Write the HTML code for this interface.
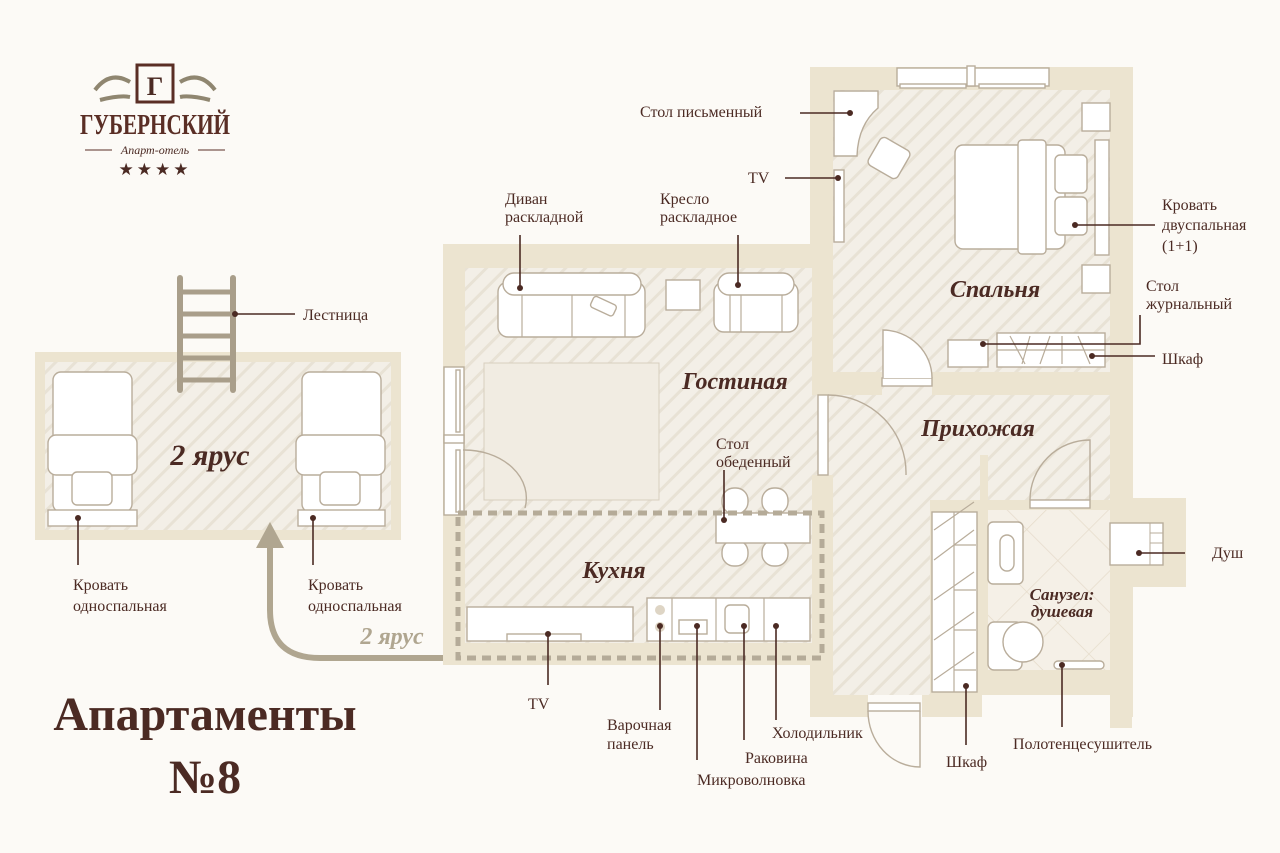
<!DOCTYPE html>
<html><head><meta charset="utf-8"><style>
html,body{margin:0;padding:0;background:#fcfaf6;}
svg{display:block}
text{font-family:"Liberation Serif",serif;fill:#4b2a23}
.l{font-size:16px}
.r{font-size:24px;font-weight:bold;font-style:italic}
.f{fill:#fff;stroke:#b9ad9b;stroke-width:1.4}
.ld{stroke:#4b2a23;stroke-width:1.6;fill:none}
</style></head><body>
<svg width="1280" height="853" viewBox="0 0 1280 853" xmlns="http://www.w3.org/2000/svg">
<defs>
<pattern id="h" width="14" height="14" patternUnits="userSpaceOnUse" patternTransform="rotate(45)">
<rect width="14" height="14" fill="#f3efe7"/><rect width="3" height="14" fill="#e8e2d5"/>
</pattern>
<pattern id="tile" width="44" height="44" patternUnits="userSpaceOnUse" patternTransform="rotate(45)">
<rect width="44" height="44" fill="#f5f0e7"/><path d="M0 0H44M0 0V44" stroke="#e6dccb" stroke-width="1.5"/>
</pattern>
</defs>
<rect width="1280" height="853" fill="#fcfaf6"/>

<!-- Logo -->
<g>
<rect x="137" y="65" width="36" height="37" fill="none" stroke="#5a2e25" stroke-width="3"/>
<text x="155" y="95" font-size="26" font-weight="bold" text-anchor="middle">Г</text>
<path d="M95 90q15-20 35-8M215 90q-15-20-35-8M100 100q20-5 30-3M210 100q-20-5-30-3" stroke="#8f8670" stroke-width="4" fill="none"/>
<text x="155" y="134" font-size="28" font-weight="bold" text-anchor="middle" textLength="150" lengthAdjust="spacingAndGlyphs" style="fill:#5a2e25">ГУБЕРНСКИЙ</text>
<line x1="85" y1="150" x2="112" y2="150" stroke="#5a2e25"/><line x1="198" y1="150" x2="225" y2="150" stroke="#5a2e25"/>
<text x="155" y="154" font-size="12" font-style="italic" text-anchor="middle">Апарт-отель</text>
<text x="155" y="175" font-size="17" text-anchor="middle" style="letter-spacing:3px">★★★★</text>
</g>

<!-- upper level -->
<rect x="35" y="352" width="366" height="188" fill="#ece4d0"/>
<rect x="45" y="362" width="346" height="168" fill="url(#h)"/>
<g stroke="#a99e8a" stroke-width="6" stroke-linecap="round">
<line x1="180" y1="278" x2="180" y2="390"/><line x1="233" y1="278" x2="233" y2="390"/>
</g>
<g stroke="#a99e8a" stroke-width="5">
<line x1="180" y1="292" x2="233" y2="292"/><line x1="180" y1="314" x2="233" y2="314"/><line x1="180" y1="336" x2="233" y2="336"/><line x1="180" y1="358" x2="233" y2="358"/><line x1="180" y1="380" x2="233" y2="380"/>
</g>
<g>
<rect class="f" x="53" y="372" width="79" height="140" rx="8"/><rect class="f" x="48" y="435" width="89" height="40" rx="8"/><rect class="f" x="72" y="472" width="40" height="33" rx="5"/><rect class="f" x="48" y="510" width="89" height="16"/>
<rect class="f" x="302" y="372" width="79" height="140" rx="8"/><rect class="f" x="296" y="435" width="89" height="40" rx="8"/><rect class="f" x="320" y="472" width="40" height="33" rx="5"/><rect class="f" x="298" y="510" width="87" height="16"/>
</g>
<text class="r" x="210" y="465" text-anchor="middle" style="font-size:30px">2 ярус</text>
<path d="M270 540V610Q270 658 320 658H460" stroke="#b0a690" stroke-width="6" fill="none"/>
<polygon points="270,522 256,548 284,548" fill="#b0a690"/>
<text x="392" y="644" text-anchor="middle" style="font-size:24px;font-style:italic;font-weight:bold;fill:#b0a690">2 ярус</text>

<!-- walls -->
<g fill="#ece4d0">
<rect x="810" y="67" width="323" height="330"/>
<rect x="443" y="244" width="390" height="421"/>
<rect x="810" y="380" width="323" height="337"/>
<rect x="1110" y="498" width="76" height="89"/>
<rect x="1110" y="690" width="22" height="38"/>
</g>
<rect x="443" y="665" width="367" height="60" fill="#fcfaf6"/>
<rect x="982" y="695" width="128" height="40" fill="#fcfaf6"/>
<!-- floors -->
<rect x="833" y="90" width="277" height="282" fill="url(#h)"/>
<rect x="465" y="268" width="347" height="375" fill="url(#h)"/>
<rect x="833" y="395" width="277" height="105" fill="url(#h)"/>
<rect x="833" y="500" width="97" height="195" fill="url(#h)"/>
<rect x="812" y="395" width="21" height="80" fill="url(#h)"/>
<rect x="988" y="510" width="122" height="160" fill="url(#tile)"/>
<rect x="980" y="455" width="8" height="55" fill="#ece4d0"/>
<rect x="868" y="695" width="54" height="25" fill="#fcfaf6"/>
<rect x="882" y="372" width="50" height="23" fill="url(#h)"/>
<!-- bathroom partition -->
<rect x="930" y="500" width="180" height="10" fill="#ece4d0"/>
<rect x="978" y="500" width="10" height="195" fill="#ece4d0"/>
<rect x="1028" y="500" width="62" height="10" fill="#ece4d0"/>

<!-- windows -->
<g class="f"><rect class="f" x="897" y="68" width="152" height="18"/><rect class="f" x="900" y="84" width="66" height="4"/><rect class="f" x="979" y="84" width="66" height="4"/><rect class="f" x="967" y="66" width="8" height="20"/>
<rect class="f" x="444" y="367" width="20" height="148"/><rect class="f" x="456" y="370" width="4" height="62"/><rect class="f" x="456" y="450" width="4" height="62"/><rect class="f" x="444" y="435" width="20" height="8"/></g>

<!-- bedroom furniture -->
<path class="f" d="M834 91H878V108Q858 125 857 156H834Z"/>
<rect class="f" x="872" y="142" width="34" height="32" rx="5" transform="rotate(30 889 158)"/>
<rect class="f" x="834" y="170" width="10" height="72"/>
<rect class="f" x="1082" y="103" width="28" height="28"/>
<rect class="f" x="955" y="145" width="110" height="104" rx="8"/>
<rect class="f" x="1018" y="140" width="28" height="114" rx="4"/>
<rect class="f" x="1055" y="155" width="32" height="38" rx="5"/><rect class="f" x="1055" y="197" width="32" height="38" rx="5"/>
<rect class="f" x="1095" y="140" width="14" height="115"/>
<rect class="f" x="1082" y="265" width="28" height="28"/>
<rect class="f" x="948" y="340" width="40" height="27"/>
<rect class="f" x="997" y="333" width="108" height="34"/>
<path d="M1010 336l15 28M1030 336l-8 28M1050 336l-10 28M1062 336v28M1078 336l12 28M997 350h108" stroke="#b9ad9b" stroke-width="1.2" fill="none"/>
<rect class="f" x="882" y="378" width="50" height="8"/><path class="f" d="M883 378V330A50 48 0 0 1 932 378" fill="none"/>
<text class="r" x="995" y="297" text-anchor="middle">Спальня</text>

<!-- living furniture -->
<rect class="f" x="498" y="282" width="147" height="55" rx="10"/>
<rect class="f" x="503" y="273" width="138" height="22" rx="11"/>
<path d="M522 295V337M572 295V337M625 295V337" stroke="#b9ad9b" stroke-width="1.2"/>
<rect class="f" x="591" y="300" width="25" height="12" rx="3" transform="rotate(25 603 306)"/>
<rect class="f" x="666" y="280" width="34" height="30"/>
<rect class="f" x="714" y="282" width="84" height="50" rx="10"/>
<rect class="f" x="718" y="273" width="76" height="22" rx="11"/>
<path d="M730 295V332M782 295V332M741 295V332" stroke="#b9ad9b" stroke-width="1.2"/>
<rect x="484" y="363" width="175" height="137" fill="#f1ece2" stroke="#d8cfbf"/>
<path d="M463 450A62 48 0 0 1 525 508" stroke="#b9ad9b" fill="none" stroke-width="1.4"/>
<text class="r" x="735" y="389" text-anchor="middle">Гостиная</text>

<!-- dining -->
<rect class="f" x="722" y="488" width="26" height="26" rx="12"/><rect class="f" x="762" y="488" width="26" height="26" rx="12"/>
<rect class="f" x="722" y="540" width="26" height="26" rx="12"/><rect class="f" x="762" y="540" width="26" height="26" rx="12"/>
<rect class="f" x="716" y="513" width="94" height="30"/>

<!-- kitchen -->
<rect x="458" y="513" width="364" height="145" fill="none" stroke="#b5ab98" stroke-width="5" stroke-dasharray="9 6"/>
<rect class="f" x="467" y="607" width="166" height="34"/>
<rect class="f" x="507" y="634" width="74" height="7"/>
<rect class="f" x="647" y="598" width="163" height="43"/>
<path d="M672 598V641M716 598V641M764 598V641" stroke="#b9ad9b" stroke-width="1.2"/>
<circle cx="660" cy="610" r="5" fill="#ded5c5"/><circle cx="660" cy="627" r="5" fill="#ded5c5"/>
<rect class="f" x="679" y="620" width="28" height="14"/>
<rect class="f" x="725" y="605" width="24" height="28" rx="5"/>
<text class="r" x="614" y="578" text-anchor="middle">Кухня</text>

<!-- hallway -->
<rect class="f" x="818" y="395" width="10" height="80"/><path d="M828 395A78 78 0 0 1 906 475" stroke="#b9ad9b" fill="none" stroke-width="1.4"/>
<text class="r" x="978" y="436" text-anchor="middle">Прихожая</text>
<rect class="f" x="1030" y="500" width="60" height="8"/><path d="M1030 500A60 60 0 0 1 1090 440V500" stroke="#b9ad9b" fill="none" stroke-width="1.4"/>
<rect class="f" x="868" y="703" width="52" height="8"/><path d="M868 711A52 56 0 0 0 920 767V711" stroke="#b9ad9b" fill="none" stroke-width="1.4"/>
<rect class="f" x="932" y="512" width="45" height="180"/>
<path d="M954 512V692M934 530l40-28M934 560l40-30M934 600l40-28M934 640l40-28M934 680l40-28M954 545h22M954 590h22M954 630h22M954 670h22" stroke="#b9ad9b" stroke-width="1.2" fill="none"/>
<!-- bathroom -->
<rect class="f" x="988" y="522" width="35" height="62" rx="5"/><rect class="f" x="1000" y="535" width="14" height="36" rx="7"/>
<rect class="f" x="988" y="622" width="34" height="48" rx="6"/><ellipse class="f" cx="1023" cy="642" rx="20" ry="20"/>
<rect class="f" x="1054" y="661" width="50" height="8" rx="4"/>
<rect class="f" x="1110" y="523" width="53" height="42"/><path d="M1150 523V565M1150 533h13M1150 543h13M1150 553h13" stroke="#b9ad9b" fill="none"/>
<text x="1062" y="600" text-anchor="middle" style="font-size:17px;font-weight:bold;font-style:italic">Санузел:</text>
<text x="1062" y="617" text-anchor="middle" style="font-size:17px;font-weight:bold;font-style:italic">душевая</text>

<!-- leaders -->
<g class="ld">
<path d="M235 314H295"/><path d="M78 518V565"/><path d="M313 518V565"/>
<path d="M520 288V235"/><path d="M738 285V235"/>
<path d="M800 113H850"/><path d="M785 178H838"/>
<path d="M1075 225H1155"/><path d="M983 344H1140V315"/><path d="M1092 356H1155"/>
<path d="M724 520V470"/><path d="M548 634V685"/>
<path d="M660 626V710"/><path d="M697 626V760"/><path d="M744 626V740"/><path d="M776 626V720"/>
<path d="M966 686V745"/><path d="M1062 665V727"/><path d="M1139 553H1185"/>
</g>
<g fill="#4b2a23">
<circle cx="235" cy="314" r="3"/><circle cx="78" cy="518" r="3"/><circle cx="313" cy="518" r="3"/><circle cx="520" cy="288" r="3"/><circle cx="738" cy="285" r="3"/><circle cx="850" cy="113" r="3"/><circle cx="838" cy="178" r="3"/><circle cx="1075" cy="225" r="3"/><circle cx="983" cy="344" r="3"/><circle cx="1092" cy="356" r="3"/><circle cx="724" cy="520" r="3"/><circle cx="548" cy="634" r="3"/><circle cx="660" cy="626" r="3"/><circle cx="697" cy="626" r="3"/><circle cx="744" cy="626" r="3"/><circle cx="776" cy="626" r="3"/><circle cx="966" cy="686" r="3"/><circle cx="1062" cy="665" r="3"/><circle cx="1139" cy="553" r="3"/>
</g>

<!-- labels -->
<g class="l">
<text class="l" x="303" y="320">Лестница</text>
<text class="l" x="73" y="590">Кровать</text><text class="l" x="73" y="611">односпальная</text>
<text class="l" x="308" y="590">Кровать</text><text class="l" x="308" y="611">односпальная</text>
<text class="l" x="505" y="204">Диван</text><text class="l" x="505" y="222">раскладной</text>
<text class="l" x="660" y="204">Кресло</text><text class="l" x="660" y="222">раскладное</text>
<text class="l" x="640" y="117">Стол письменный</text>
<text class="l" x="748" y="183">TV</text>
<text class="l" x="1162" y="210">Кровать</text><text class="l" x="1162" y="230">двуспальная</text><text class="l" x="1162" y="251">(1+1)</text>
<text class="l" x="1146" y="291">Стол</text><text class="l" x="1146" y="309">журнальный</text>
<text class="l" x="1162" y="364">Шкаф</text>
<text class="l" x="716" y="449">Стол</text><text class="l" x="716" y="467">обеденный</text>
<text class="l" x="528" y="709">TV</text>
<text class="l" x="607" y="730">Варочная</text><text class="l" x="607" y="749">панель</text>
<text class="l" x="697" y="785">Микроволновка</text>
<text class="l" x="745" y="763">Раковина</text>
<text class="l" x="772" y="738">Холодильник</text>
<text class="l" x="946" y="767">Шкаф</text>
<text class="l" x="1013" y="749">Полотенцесушитель</text>
<text class="l" x="1212" y="558">Душ</text>
</g>
<text x="205" y="730" text-anchor="middle" style="font-size:48px;font-weight:bold">Апартаменты</text>
<text x="205" y="793" text-anchor="middle" style="font-size:48px;font-weight:bold">№8</text>
</svg>
</body></html>
